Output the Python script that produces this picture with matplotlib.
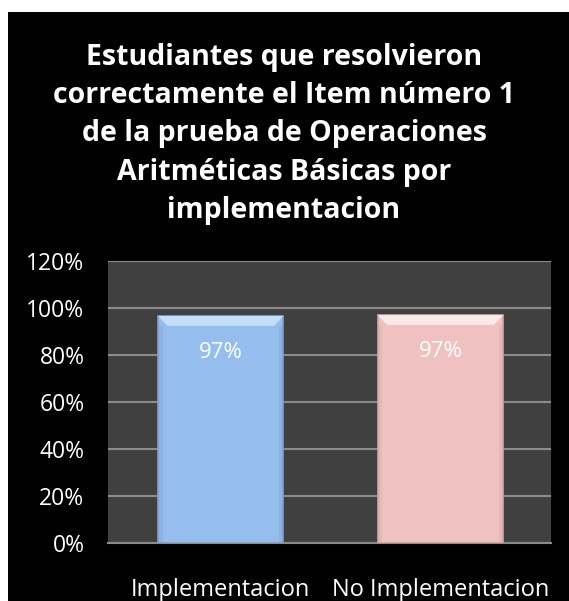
import matplotlib
matplotlib.use("Agg")
import matplotlib.pyplot as plt
from matplotlib.patches import Rectangle, Polygon
import numpy as np

categories = ["Implementacion", "No Implementacion"]
values = [0.966, 0.97]
value_labels = ["97%", "97%"]
bar_colors = ["#95BDEE", "#F0C1C1"]
edge_colors = ["#7F9FCB", "#D3A4A4"]
bevel_colors = ["#C4DDF8", "#FBE9E9"]
yticks = [0, 0.2, 0.4, 0.6, 0.8, 1.0, 1.2]
ytick_labels = ["0%", "20%", "40%", "60%", "80%", "100%", "120%"]
title = ("Estudiantes que resolvieron\ncorrectamente el Item número 1\n"
         "de la prueba de Operaciones\nAritméticas Básicas por\nimplementacion")

plt.rcParams['font.family'] = ['Open Sans', 'DejaVu Sans']

W, H = 569, 601
fig = plt.figure(figsize=(W / 100, H / 100), dpi=100)
fig.patch.set_facecolor("white")

# black chart area
bg = fig.add_axes([8 / W, 0, 1 - 8 / W, 1 - 12 / H])
bg.set_facecolor("black")
bg.set_xticks([]); bg.set_yticks([])
for s in bg.spines.values():
    s.set_visible(False)
bg.set_zorder(-10)

ax = fig.add_axes([108 / W, 1 - 543 / H, (551 - 108) / W, (543 - 261) / H])
ax.set_facecolor("#404040")
ax.set_xlim(-0.513, 1.503)
ax.set_ylim(0, 1.2)
ax.set_yticks(yticks)
ax.set_yticklabels(ytick_labels, color="white", fontsize=16.5)
ax.set_xticks(range(len(categories)))
ax.set_xticklabels(categories, color="white", fontsize=17)
ax.tick_params(axis="both", length=0)
ax.tick_params(axis="y", pad=17)
ax.tick_params(axis="x", pad=25)
ax.grid(axis="y", color="#8C8C8C", linewidth=1.5)
ax.set_axisbelow(True)
for k, s in ax.spines.items():
    s.set_visible(k == "bottom")
ax.spines["bottom"].set_color("#8C8C8C")
ax.spines["bottom"].set_linewidth(1.5)

width = 0.571
x = np.arange(len(categories))
bars = ax.bar(x, values, width=width, color=bar_colors, edgecolor=edge_colors,
              linewidth=1.2, zorder=3)

# bevel highlight at top and darker side edges derived from bar geometry
for b, bc, ec in zip(bars, bevel_colors, edge_colors):
    x0, w, h = b.get_x(), b.get_width(), b.get_height()
    dx = w * 0.075
    dy = 0.042
    top = Polygon([[x0, h], [x0 + w, h], [x0 + w - dx, h - dy], [x0 + dx, h - dy]],
                  closed=True, facecolor=bc, edgecolor="none", zorder=4)
    ax.add_patch(top)
    left = Rectangle((x0, 0), dx * 0.5, h - dy, facecolor=ec, alpha=0.3,
                     edgecolor="none", zorder=4)
    right = Rectangle((x0 + w - dx * 0.5, 0), dx * 0.5, h - dy, facecolor=ec,
                      alpha=0.3, edgecolor="none", zorder=4)
    ax.add_patch(left); ax.add_patch(right)

for xi, v, lab in zip(x, values, value_labels):
    ax.annotate(lab, (xi, v), xytext=(0, -26), textcoords="offset points",
                ha="center", va="center", color="white", fontsize=16, zorder=5)

fig.text(284 / W, 1 - 134 / H, title, ha="center", va="center", color="white",
         fontsize=20.5, fontweight="bold", linespacing=1.42)

fig.savefig("out.png", dpi=100, facecolor=fig.get_facecolor())
